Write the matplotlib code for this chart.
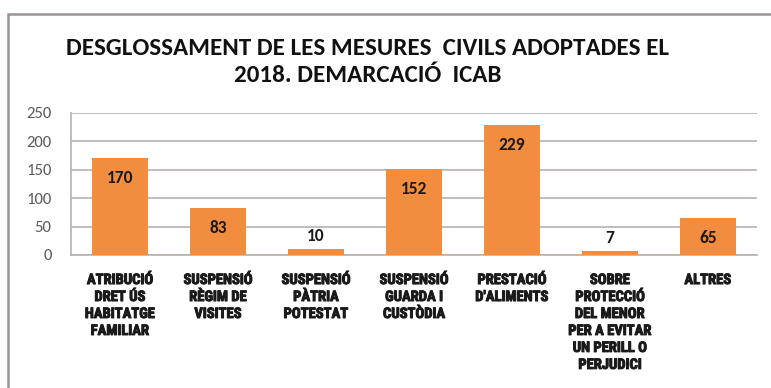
import matplotlib
matplotlib.use("Agg")
import matplotlib.pyplot as plt
import matplotlib.patheffects as pe
from matplotlib.patches import Rectangle

categories = [
    "ATRIBUCIÓ\nDRET ÚS\nHABITATGE\nFAMILIAR",
    "SUSPENSIÓ\nRÈGIM DE\nVISITES",
    "SUSPENSIÓ\nPÀTRIA\nPOTESTAT",
    "SUSPENSIÓ\nGUARDA I\nCUSTÒDIA",
    "PRESTACIÓ\nD'ALIMENTS",
    "SOBRE\nPROTECCIÓ\nDEL MENOR\nPER A EVITAR\nUN PERILL O\nPERJUDICI",
    "ALTRES",
]
values = [170, 83, 10, 152, 229, 7, 65]
yticks = [0, 50, 100, 150, 200, 250]
title = "DESGLOSSAMENT DE LES MESURES  CIVILS ADOPTADES EL\n2018. DEMARCACIÓ  ICAB"

bar_color = "#F28C3E"
grid_color = "#B8B0AE"

fig = plt.figure(figsize=(7.71, 3.88), dpi=100)
fig.patch.set_facecolor("white")

# outer chart frame
fig.patches.append(Rectangle((8 / 771, -0.05), 1.1, (388 - 14) / 388 + 0.05,
                             transform=fig.transFigure, fill=False,
                             edgecolor="#9A9494", linewidth=1.8))

ax = fig.add_axes([71 / 771, (388 - 255) / 388, (757 - 71) / 771, (255 - 113) / 388])
x = list(range(len(values)))
ax.bar(x, values, width=0.58, color=bar_color, zorder=3)
ax.set_xlim(-0.5, len(values) - 0.5)
ax.set_ylim(0, 250)
ax.set_yticks(yticks)
ax.yaxis.grid(True, color=grid_color, linewidth=1.2, zorder=0)
ax.set_axisbelow(True)
for s in ["top", "right"]:
    ax.spines[s].set_visible(False)
ax.spines["left"].set_color(grid_color)
ax.spines["bottom"].set_color(grid_color)
ax.spines["left"].set_linewidth(1.2)
ax.spines["bottom"].set_linewidth(1.2)
ax.tick_params(axis="y", length=0, pad=14, labelsize=12, labelcolor="#5E5A5A")
ax.tick_params(axis="x", length=0, pad=13)
for lab in ax.get_yticklabels():
    lab.set_fontfamily("Carlito")

ax.set_xticks(x)
ax.set_xticklabels(categories, fontfamily="Roboto Condensed", fontweight="bold",
                   fontsize=10.5, linespacing=1.27, va="top", color="#1A1A1A")
for lab in ax.get_xticklabels():
    lab.set_path_effects([pe.withStroke(linewidth=0.7, foreground="#1A1A1A")])

for xi, v in zip(x, values):
    ypos = v - 35 if v > 40 else v + 23
    ax.text(xi, ypos, str(v), ha="center", va="center", fontsize=12.5,
            fontweight="bold", fontfamily="Carlito", color="#1A1A1A", zorder=4)

fig.text(368 / 771, 1 - 62 / 388, title, ha="center", va="center",
         fontsize=18, fontweight="bold", fontfamily="Carlito",
         linespacing=1.3, color="#111111")

fig.savefig("out.png", dpi=100)
